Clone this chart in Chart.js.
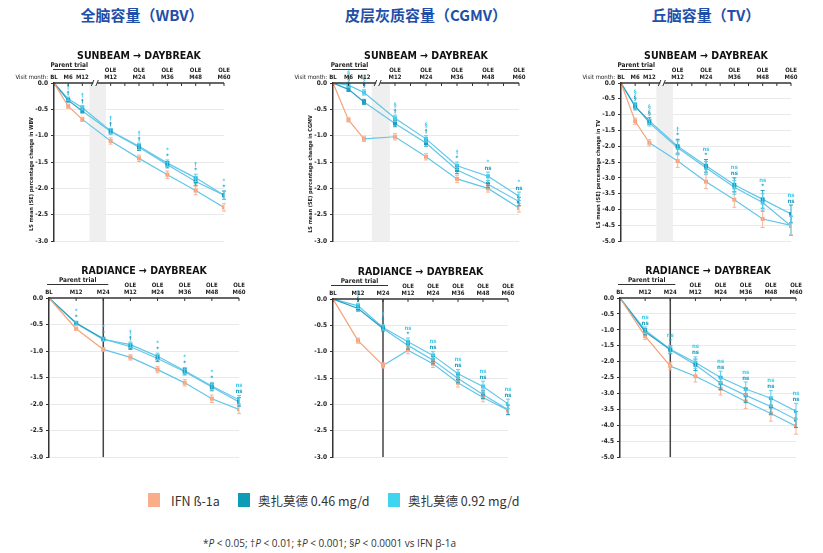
<!DOCTYPE html>
<html>
<head>
<meta charset="utf-8">
<script src="https://cdn.jsdelivr.net/npm/chart.js@4.4.1/dist/chart.umd.min.js"></script>
<style>
  body { margin: 0; background: #fff; width: 823px; height: 553px; position: relative; overflow: hidden; }
  canvas { position: absolute; }
  .ttl { position: absolute; top: 4px; width: 240px; margin-left: -120px; text-align: center;
         font: bold 15px "Noto Sans CJK SC", sans-serif; color: #1f4fa8; white-space: nowrap; }
  .lg { position: absolute; top: 493px; width: 12px; height: 14px; }
  .lgt { position: absolute; top: 491px; font: 12.5px "Noto Sans CJK SC", "Noto Sans", sans-serif; color: #333; white-space: nowrap; }
  .note { position: absolute; left: 203px; top: 536px; font: 10px "Open Sans", "Noto Sans", sans-serif; color: #333; white-space: nowrap; }
</style>
</head>
<body>
<div class="ttl" style="left:142px">全脑容量（WBV）</div>
<div class="ttl" style="left:426px">皮层灰质容量（CGMV）</div>
<div class="ttl" style="left:706px">丘脑容量（TV）</div>

<div class="lg" style="left:148px;background:#f9ad8a"></div>
<div class="lgt" style="left:171px">IFN ß-1a</div>
<div class="lg" style="left:238px;background:#0d9bb5"></div>
<div class="lgt" style="left:258px">奥扎莫德 0.46 mg/d</div>
<div class="lg" style="left:388px;background:#3fd5ee"></div>
<div class="lgt" style="left:408px">奥扎莫德 0.92 mg/d</div>
<div class="note">*<i>P</i> &lt; 0.05; †<i>P</i> &lt; 0.01; ‡<i>P</i> &lt; 0.001; §<i>P</i> &lt; 0.0001 vs IFN β-1a</div>

<script>
// Visit months (x positions) and header labels
const sunMonths = [0, 6, 12, 24, 36, 48, 60, 72];
const sunLabels = [['BL'], ['M6'], ['M12'], ['OLE', 'M12'], ['OLE', 'M24'], ['OLE', 'M36'], ['OLE', 'M48'], ['OLE', 'M60']];
const sunTicks = [0, 6, 12, 24, 30, 36, 42, 48, 54, 60, 66, 72];
const radMonths = [0, 12, 24, 36, 48, 60, 72, 84];
const radLabels = [['BL'], ['M12'], ['M24'], ['OLE', 'M12'], ['OLE', 'M24'], ['OLE', 'M36'], ['OLE', 'M48'], ['OLE', 'M60']];

// WBV - SUNBEAM -> DAYBREAK
const wbvSunIfn = [0, -0.44, -0.69, -1.10, -1.43, -1.74, -2.04, -2.36];
const wbvSunIfnErr = [0, 0.04, 0.04, 0.06, 0.06, 0.07, 0.08, 0.07];
const wbvSun046 = [0, -0.33, -0.53, -0.92, -1.22, -1.55, -1.87, -2.13];
const wbvSun046Err = [0, 0.03, 0.04, 0.05, 0.06, 0.06, 0.07, 0.08];
const wbvSun092 = [0, -0.30, -0.47, -0.91, -1.20, -1.52, -1.80, -2.13];
const wbvSun092Err = [0, 0.03, 0.04, 0.05, 0.06, 0.06, 0.07, 0.08];
const wbvSunSig046 = ['', '†', '†', '†', '†', '*', '*', '*'];
const wbvSunSig092 = ['', '†', '†', '†', '†', '*', '†', '*'];

// CGMV - SUNBEAM -> DAYBREAK
const cgmvSunIfn = [0, -0.70, -1.06, -1.02, -1.40, -1.82, -2.00, -2.37];
const cgmvSunIfnErr = [0, 0.04, 0.05, 0.06, 0.06, 0.07, 0.07, 0.08];
const cgmvSun046 = [0, -0.12, -0.36, -0.77, -1.14, -1.65, -1.92, -2.25];
const cgmvSun046Err = [0, 0.04, 0.05, 0.06, 0.06, 0.07, 0.07, 0.08];
const cgmvSun092 = [0, -0.04, -0.18, -0.67, -1.06, -1.57, -1.77, -2.15];
const cgmvSun092Err = [0, 0.04, 0.05, 0.06, 0.06, 0.07, 0.08, 0.08];
const cgmvSunSig046 = ['', '§', '§', '†', '†', '*', 'ns', 'ns'];
const cgmvSunSig092 = ['', '§', '§', '§', '§', '†', '*', '*'];

// TV - SUNBEAM -> DAYBREAK
const tvSunIfn = [0, -1.21, -1.89, -2.47, -3.12, -3.69, -4.30, -4.50];
const tvSunIfnErr = [0, 0.10, 0.10, 0.20, 0.22, 0.24, 0.27, 0.30];
const tvSun046 = [0, -0.75, -1.20, -2.00, -2.62, -3.22, -3.68, -4.14];
const tvSun046Err = [0, 0.10, 0.10, 0.22, 0.20, 0.22, 0.28, 0.28];
const tvSun092 = [0, -0.72, -1.26, -2.05, -2.68, -3.30, -3.78, -4.52];
const tvSun092Err = [0, 0.10, 0.10, 0.22, 0.20, 0.22, 0.28, 0.30];
const tvSunSig046 = ['', '§', '§', '*', '*', 'ns', '*', 'ns'];
const tvSunSig092 = ['', '§', '§', '†', 'ns', 'ns', 'ns', 'ns'];

// WBV - RADIANCE -> DAYBREAK
const wbvRadIfn = [0, -0.58, -0.97, -1.12, -1.35, -1.60, -1.90, -2.10];
const wbvRadIfnErr = [0, 0.03, 0.03, 0.05, 0.06, 0.06, 0.07, 0.08];
const wbvRad046 = [0, -0.47, -0.77, -0.92, -1.14, -1.39, -1.68, -1.96];
const wbvRad046Err = [0, 0.03, 0.03, 0.05, 0.06, 0.06, 0.07, 0.08];
const wbvRad092 = [0, -0.48, -0.78, -0.88, -1.10, -1.37, -1.66, -1.92];
const wbvRad092Err = [0, 0.03, 0.03, 0.05, 0.06, 0.06, 0.07, 0.08];
const wbvRadSig046 = ['', '*', '*', '†', '*', '*', '*', 'ns'];
const wbvRadSig092 = ['', '*', '*', '†', '*', '*', '*', 'ns'];

// CGMV - RADIANCE -> DAYBREAK
const cgmvRadIfn = [0, -0.79, -1.26, -0.97, -1.23, -1.59, -1.87, -2.11];
const cgmvRadIfnErr = [0, 0.05, 0.05, 0.07, 0.07, 0.08, 0.08, 0.09];
const cgmvRad046 = [0, -0.18, -0.56, -0.88, -1.16, -1.51, -1.81, -2.10];
const cgmvRad046Err = [0, 0.05, 0.05, 0.07, 0.07, 0.08, 0.08, 0.09];
const cgmvRad092 = [0, -0.13, -0.54, -0.81, -1.07, -1.42, -1.66, -1.99];
const cgmvRad092Err = [0, 0.05, 0.05, 0.07, 0.07, 0.08, 0.10, 0.09];
const cgmvRadSig046 = ['', '§', '*', '*', 'ns', 'ns', 'ns', 'ns'];
const cgmvRadSig092 = ['', '§', '†', 'ns', 'ns', 'ns', 'ns', 'ns'];

// TV - RADIANCE -> DAYBREAK
const tvRadIfn = [0, -1.20, -2.14, -2.46, -2.85, -3.25, -3.63, -4.03];
const tvRadIfnErr = [0, 0.10, 0.12, 0.18, 0.20, 0.22, 0.24, 0.25];
const tvRad046 = [0, -1.06, -1.63, -2.10, -2.68, -3.06, -3.41, -3.82];
const tvRad046Err = [0, 0.10, 0.12, 0.18, 0.20, 0.22, 0.24, 0.25];
const tvRad092 = [0, -1.01, -1.61, -2.03, -2.50, -2.86, -3.15, -3.56];
const tvRad092Err = [0, 0.10, 0.12, 0.18, 0.20, 0.22, 0.24, 0.25];
const tvRadSig046 = ['', 'ns', '*', 'ns', 'ns', 'ns', 'ns', 'ns'];
const tvRadSig092 = ['', 'ns', 'ns', 'ns', 'ns', 'ns', 'ns', 'ns'];

const FONT = "'DejaVu Sans Condensed', 'DejaVu Sans', sans-serif";
const ORANGE = '#f5a27c';
const TEAL = '#1a9cbc';
const CYAN = '#3fcbec';
const OLE_LINE = '#62c6e8';

// chart areas in page pixels: [left, top, right, bottom]
const panels = [
    { area: [54, 83, 224, 242], sun: true, yMin: -3, ifn: wbvSunIfn, ifnErr: wbvSunIfnErr, o46: wbvSun046, o46Err: wbvSun046Err,
      o92: wbvSun092, o92Err: wbvSun092Err, sig46: wbvSunSig046, sig92: wbvSunSig092, yTitle: 'LS mean (SE) percentage change in WBV' },
    { area: [333, 83, 519, 242], sun: true, yMin: -3, ifn: cgmvSunIfn, ifnErr: cgmvSunIfnErr, o46: cgmvSun046, o46Err: cgmvSun046Err,
      o92: cgmvSun092, o92Err: cgmvSun092Err, sig46: cgmvSunSig046, sig92: cgmvSunSig092, yTitle: 'LS mean (SE) percentage change in CGMV' },
    { area: [621, 83, 791, 242], sun: true, yMin: -5, ifn: tvSunIfn, ifnErr: tvSunIfnErr, o46: tvSun046, o46Err: tvSun046Err,
      o92: tvSun092, o92Err: tvSun092Err, sig46: tvSunSig046, sig92: tvSunSig092, yTitle: 'LS mean (SE) percentage change in TV' },
    { area: [49, 298, 239, 458], sun: false, yMin: -3, ifn: wbvRadIfn, ifnErr: wbvRadIfnErr, o46: wbvRad046, o46Err: wbvRad046Err,
      o92: wbvRad092, o92Err: wbvRad092Err, sig46: wbvRadSig046, sig92: wbvRadSig092 },
    { area: [333, 299, 508, 458], sun: false, yMin: -3, ifn: cgmvRadIfn, ifnErr: cgmvRadIfnErr, o46: cgmvRad046, o46Err: cgmvRad046Err,
      o92: cgmvRad092, o92Err: cgmvRad092Err, sig46: cgmvRadSig046, sig92: cgmvRadSig092 },
    { area: [620, 298, 796, 458], sun: false, yMin: -5, ifn: tvRadIfn, ifnErr: tvRadIfnErr, o46: tvRad046, o46Err: tvRad046Err,
      o92: tvRad092, o92Err: tvRad092Err, sig46: tvRadSig046, sig92: tvRadSig092 }
];

function series(months, vals, err, color, parentLine, parentEnd, errColor) {
    return {
        data: vals.map((v, i) => ({ x: months[i], y: v })),
        err: err,
        errColor: errColor,
        borderWidth: 1.2,
        borderColor: OLE_LINE,
        segment: { borderColor: c => c.p1.parsed.x <= parentEnd ? parentLine : OLE_LINE },
        pointStyle: 'rect',
        pointRadius: 2.8,
        pointBorderWidth: 0,
        pointBackgroundColor: color,
        tension: 0
    };
}

function line(c, x1, y1, x2, y2) {
    c.beginPath(); c.moveTo(x1, y1); c.lineTo(x2, y2); c.stroke();
}

function makePanel(p) {
    const months = p.sun ? sunMonths : radMonths;
    const labels = p.sun ? sunLabels : radLabels;
    const parentEnd = p.sun ? 12 : 24;
    const [L, T, R, B] = p.area;
    const cl = L - 56, ct = T - 46;
    const w = R - cl + 12, h = B - ct + 6;

    const cv = document.createElement('canvas');
    cv.width = w; cv.height = h;
    cv.style.left = cl + 'px'; cv.style.top = ct + 'px';
    cv.style.width = w + 'px'; cv.style.height = h + 'px';
    document.body.appendChild(cv);

    const decor = {
        id: 'decor',
        beforeDatasetsDraw(chart) {
            const c = chart.ctx, a = chart.chartArea, xs = chart.scales.x;
            c.save();
            if (p.sun) {
                c.fillStyle = '#eeefee';
                c.fillRect(xs.getPixelForValue(15), a.top, xs.getPixelForValue(22) - xs.getPixelForValue(15), a.bottom - a.top);
            } else {
                c.strokeStyle = '#444'; c.lineWidth = 1.5;
                const x = xs.getPixelForValue(24);
                line(c, x, a.top, x, a.bottom);
            }
            c.restore();
        },
        afterDatasetsDraw(chart) {
            const c = chart.ctx, ys = chart.scales.y;
            c.save();
            c.lineWidth = 1;
            // error bars
            chart.data.datasets.forEach((ds, di) => {
                const meta = chart.getDatasetMeta(di);
                c.strokeStyle = ds.errColor;
                meta.data.forEach((pt, i) => {
                    const e = ds.err[i];
                    if (!e) return;
                    const v = ds.data[i].y;
                    const y1 = ys.getPixelForValue(v + e), y2 = ys.getPixelForValue(v - e);
                    line(c, pt.x, y1, pt.x, y2);
                    line(c, pt.x - 2, y1, pt.x + 2, y1);
                    line(c, pt.x - 2, y2, pt.x + 2, y2);
                });
            });
            // significance labels
            c.font = 'bold 6px ' + FONT;
            c.textAlign = 'center';
            c.textBaseline = 'middle';
            const meta0 = chart.getDatasetMeta(1);
            months.forEach((m, i) => {
                if (!p.sig46[i]) return;
                let top = Infinity;
                chart.data.datasets.forEach(ds => {
                    top = Math.min(top, ys.getPixelForValue(ds.data[i].y + ds.err[i]));
                });
                const x = meta0.data[i].x;
                c.fillStyle = TEAL;
                c.fillText(p.sig46[i], x, top - 4);
                c.fillStyle = CYAN;
                c.fillText(p.sig92[i], x, top - 10);
            });
            c.restore();
        },
        afterDraw(chart) {
            const c = chart.ctx, a = chart.chartArea, xs = chart.scales.x;
            c.save();
            c.strokeStyle = '#333'; c.fillStyle = '#222';
            // top axis line and ticks
            c.lineWidth = 1.5;
            line(c, a.left, a.top, a.right, a.top);
            c.lineWidth = 1;
            (p.sun ? sunTicks : months).forEach(m => {
                const x = xs.getPixelForValue(m);
                line(c, x, a.top, x, a.top + 3);
            });
            if (p.sun) {
                const x = xs.getPixelForValue(17.5);
                c.fillStyle = '#fff';
                c.fillRect(x - 2, a.top - 2, 4, 4);
                c.strokeStyle = '#333';
                line(c, x - 4, a.top + 3, x - 1.5, a.top - 3);
                line(c, x + 0.5, a.top + 3, x + 3, a.top - 3);
            }
            // visit labels
            c.fillStyle = '#222';
            c.font = 'bold 6px ' + FONT;
            c.textAlign = 'center';
            c.textBaseline = 'middle';
            labels.forEach((lab, i) => {
                const x = xs.getPixelForValue(months[i]);
                if (lab.length === 2) {
                    c.fillText(lab[0], x, a.top - 12.5);
                    c.fillText(lab[1], x, a.top - 6);
                } else {
                    c.fillText(lab[0], x, a.top - 6);
                }
            });
            if (p.sun) {
                c.textAlign = 'right';
                c.font = '6px ' + FONT;
                c.fillText('Visit month:', a.left - 6, a.top - 6);
            }
            // parent trial bracket
            const px1 = xs.getPixelForValue(0) - (p.sun ? 1 : 2);
            const px2 = xs.getPixelForValue(parentEnd) + (p.sun ? 3 : 5);
            c.lineWidth = 1;
            line(c, px1, a.top - 13.5, px2, a.top - 13.5);
            c.textAlign = 'center';
            c.font = 'bold 6.5px ' + FONT;
            c.fillText('Parent trial', (px1 + px2) / 2, a.top - 18);
            // study title
            c.font = 'bold 10.5px ' + FONT;
            c.fillStyle = '#111';
            c.fillText(p.sun ? 'SUNBEAM \u2192 DAYBREAK' : 'RADIANCE \u2192 DAYBREAK', (a.left + a.right) / 2, a.top - 27);
            // y axis title
            if (p.yTitle) {
                c.translate(a.left - 22, (a.top + a.bottom) / 2 + 12);
                c.rotate(-Math.PI / 2);
                c.font = 'bold 5.5px ' + FONT;
                c.fillStyle = '#222';
                c.fillText(p.yTitle, 0, 0);
            }
            c.restore();
        }
    };

    new Chart(cv, {
        type: 'line',
        data: {
            datasets: [
                series(months, p.ifn, p.ifnErr, ORANGE, ORANGE, parentEnd, '#f7b496'),
                series(months, p.o46, p.o46Err, TEAL, '#2c9fc2', parentEnd, '#2aa3c4'),
                series(months, p.o92, p.o92Err, CYAN, '#55c8ea', parentEnd, '#5cd0ee')
            ]
        },
        options: {
            responsive: false,
            animation: false,
            layout: { padding: { left: 0, top: 46, right: 12, bottom: 6 } },
            plugins: { legend: { display: false }, tooltip: { enabled: false } },
            scales: {
                x: { type: 'linear', display: false, min: 0, max: months[months.length - 1] },
                y: {
                    min: p.yMin, max: 0,
                    afterFit: s => { s.width = 56; },
                    ticks: {
                        stepSize: 0.5,
                        callback: v => v.toFixed(1),
                        font: { family: FONT, size: 6.5, weight: 'bold' },
                        color: '#222',
                        padding: 3
                    },
                    grid: {
                        color: ctx => (ctx.tick && ctx.tick.value === 0) ? 'rgba(0,0,0,0)' : '#e9e9e9',
                        tickColor: '#333',
                        tickLength: 3
                    },
                    border: { color: '#333', width: 1.5 }
                }
            }
        },
        plugins: [decor]
    });
}

panels.forEach(makePanel);
</script>
</body>
</html>
